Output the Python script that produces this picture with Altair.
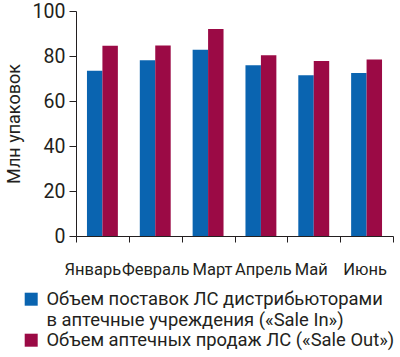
import altair as alt
import pandas as pd

months = ["Январь", "Февраль", "Март", "Апрель", "Май", "Июнь"]
sale_in = [73.5, 78.1, 82.8, 75.9, 71.4, 72.4]
sale_out = [84.6, 84.7, 92.0, 80.3, 77.8, 78.5]
series = [
    "Объем поставок ЛС дистрибьюторами|в аптечные учреждения («Sale In»)",
    "Объем аптечных продаж ЛС («Sale Out»)",
]
colors = ["#0a64b0", "#9b0a45"]

rows = []
for m, a, b in zip(months, sale_in, sale_out):
    rows.append({"month": m, "series": series[0], "value": a})
    rows.append({"month": m, "series": series[1], "value": b})
df = pd.DataFrame(rows)

FONT = "Roboto"
TXT = "#231f20"

label_shift = {
    "condition": [
        {"test": "datum.value == 'Январь'", "value": -10},
        {"test": "datum.value == 'Март'", "value": 4},
        {"test": "datum.value == 'Апрель'", "value": 2},
        {"test": "datum.value == 'Май'", "value": -3},
        {"test": "datum.value == 'Июнь'", "value": -2},
    ],
    "value": 0,
}

chart = (
    alt.Chart(df)
    .mark_bar()
    .encode(
        x=alt.X(
            "month:N",
            sort=months,
            title=None,
            scale=alt.Scale(paddingInner=0, paddingOuter=0),
            axis=alt.Axis(
                tickBand="extent",
                labelAngle=0,
                labelPadding=19,
                labelOffset=label_shift,
                tickSize=6,
                labelFontSize=16.5,
                labelFont=FONT,
                labelColor=TXT,
                domainColor=TXT,
                tickColor=TXT,
            ),
        ),
        xOffset=alt.XOffset(
            "series:N", sort=series, scale=alt.Scale(paddingInner=0, paddingOuter=0.71)
        ),
        y=alt.Y(
            "value:Q",
            title="Млн упаковок",
            scale=alt.Scale(domain=[0, 100]),
            axis=alt.Axis(
                values=[0, 20, 40, 60, 80, 100],
                grid=False,
                tickSize=7,
                labelPadding=4,
                labelFontSize=19.5,
                labelFont=FONT,
                labelColor=TXT,
                titleFont=FONT,
                titleFontSize=18,
                titleFontWeight="normal",
                titleColor=TXT,
                titlePadding=9,
                domainColor=TXT,
                tickColor=TXT,
            ),
        ),
        color=alt.Color(
            "series:N",
            sort=series,
            scale=alt.Scale(domain=series, range=colors),
            legend=alt.Legend(
                title=None,
                orient="none",
                legendX=-54,
                legendY=279,
                direction="vertical",
                symbolType="square",
                symbolSize=169,
                symbolStrokeWidth=0,
                labelFont=FONT,
                labelFontSize=18.4,
                labelColor=TXT,
                labelLimit=400,
                labelOffset=6,
                rowPadding=2,
                labelExpr="split(datum.label, '|')",
            ),
        ),
    )
    .properties(
        width=317,
        height=225,
        padding={"left": 76, "top": 11, "right": 7, "bottom": 121},
        autosize=alt.AutoSizeParams(type="none"),
    )
    .configure_view(stroke=None)
)

chart.save("out.html", embed_options={"renderer": "svg", "actions": False})
